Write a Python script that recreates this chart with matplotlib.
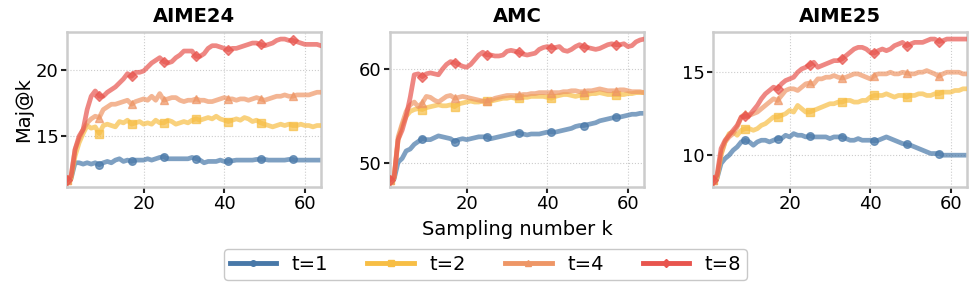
import matplotlib
matplotlib.use("Agg")
import matplotlib.pyplot as plt
from matplotlib.lines import Line2D

k = list(range(1, 65))

titles = ["AIME24", "AMC", "AIME25"]
labels = ["t=1", "t=2", "t=4", "t=8"]
colors = ["#4878a8", "#f7be45", "#ee9666", "#e8554e"]
markers = ["o", "s", "^", "D"]

aime24_t1 = [11.7, 11.8, 13.0, 13.0, 12.9, 13.0, 12.9, 13.0, 12.85, 13.0, 13.1, 13.0, 13.2, 13.3, 13.1, 13.2,
             13.1, 13.2, 13.2, 13.2, 13.3, 13.2, 13.3, 13.4, 13.45, 13.3, 13.3, 13.3, 13.3, 13.3, 13.3, 13.4,
             13.3, 13.2, 13.0, 13.1, 13.1, 13.1, 13.2, 13.1, 13.1, 13.15, 13.2, 13.2, 13.2, 13.2, 13.2, 13.25,
             13.25, 13.25, 13.2, 13.2, 13.2, 13.2, 13.2, 13.25, 13.25, 13.2, 13.2, 13.2, 13.2, 13.2, 13.2, 13.2]
aime24_t2 = [11.7, 11.8, 13.5, 14.5, 15.2, 15.8, 15.6, 15.7, 15.2, 15.8, 15.9, 15.8, 15.7, 16.1, 16.0, 16.2,
             15.9, 16.0, 16.1, 15.9, 16.0, 15.9, 16.2, 16.0, 16.0, 16.2, 16.1, 15.9, 16.0, 16.1, 16.0, 16.2,
             16.3, 16.2, 16.3, 16.4, 16.3, 16.5, 16.3, 16.2, 16.1, 16.2, 16.3, 16.2, 16.4, 16.3, 16.1, 16.2,
             16.0, 15.9, 15.8, 15.7, 15.8, 15.9, 15.8, 15.9, 15.8, 15.8, 15.9, 15.8, 15.8, 15.7, 15.8, 15.8]
aime24_t4 = [11.7, 11.9, 14.0, 14.8, 15.5, 16.0, 16.3, 16.5, 16.4, 17.0, 17.2, 17.4, 17.4, 17.5, 17.6, 17.7,
             17.4, 17.6, 17.7, 17.8, 17.7, 18.0, 17.7, 18.2, 17.7, 17.8, 17.9, 17.9, 17.7, 17.6, 17.7, 17.7,
             17.8, 17.7, 17.7, 17.6, 17.6, 17.7, 17.8, 17.9, 17.8, 17.8, 17.7, 17.8, 17.8, 17.7, 17.8, 17.9,
             17.8, 17.7, 17.8, 17.9, 18.0, 18.0, 18.1, 18.0, 18.0, 18.1, 18.1, 18.1, 18.1, 18.2, 18.3, 18.3]
aime24_t8 = [11.7, 12.0, 14.0, 15.0, 15.5, 17.0, 18.0, 18.4, 18.0, 18.0, 18.3, 18.5, 18.7, 19.0, 19.3, 19.7,
             19.5, 19.8, 19.8, 19.9, 20.2, 20.5, 20.7, 20.9, 20.6, 20.5, 20.6, 20.9, 21.1, 21.4, 21.4, 21.4,
             21.0, 21.0, 21.2, 21.6, 21.8, 21.8, 21.7, 21.6, 21.5, 21.6, 21.6, 21.7, 21.8, 21.9, 22.0, 22.0,
             21.9, 21.8, 21.9, 22.0, 22.2, 22.3, 22.3, 22.2, 22.2, 22.1, 22.0, 21.9, 21.9, 21.9, 21.9, 21.8]

amc_t1 = [48.2, 48.3, 50.1, 50.5, 51.3, 51.5, 52.0, 52.3, 52.6, 52.5, 52.5, 52.7, 52.9, 52.8, 52.7, 52.6,
          52.3, 52.5, 52.6, 52.5, 52.6, 52.7, 52.8, 52.8, 52.8, 52.6, 52.7, 52.8, 52.9, 53.0, 53.1, 53.2,
          53.2, 53.1, 53.0, 53.1, 53.1, 53.1, 53.2, 53.3, 53.3, 53.3, 53.4, 53.5, 53.6, 53.7, 53.9, 54.0,
          54.0, 54.1, 54.2, 54.3, 54.5, 54.6, 54.7, 54.8, 54.9, 54.9, 55.0, 55.1, 55.2, 55.2, 55.3, 55.3]
amc_t2 = [48.2, 48.4, 52.5, 54.0, 55.0, 55.5, 55.7, 55.8, 55.7, 55.9, 56.0, 56.1, 56.2, 56.1, 56.1, 56.2,
          56.0, 56.3, 56.4, 56.5, 56.6, 56.5, 56.5, 56.6, 56.6, 56.6, 56.7, 56.8, 56.9, 56.9, 57.0, 56.9,
          56.9, 57.0, 57.0, 57.1, 57.1, 57.1, 57.1, 57.0, 56.9, 57.1, 57.2, 57.3, 57.3, 57.2, 57.1, 57.2,
          57.2, 57.3, 57.4, 57.4, 57.5, 57.4, 57.3, 57.3, 57.3, 57.3, 57.3, 57.4, 57.4, 57.5, 57.5, 57.5]
amc_t4 = [48.2, 48.5, 52.8, 54.2, 55.5, 56.2, 56.5, 56.0, 56.4, 57.1, 57.0, 56.7, 56.5, 56.8, 57.1, 57.2,
          56.9, 57.0, 57.1, 57.0, 56.9, 56.8, 56.7, 56.6, 56.6, 56.7, 56.9, 57.0, 57.1, 57.2, 57.2, 57.2,
          57.2, 57.3, 57.3, 57.4, 57.4, 57.5, 57.5, 57.5, 57.5, 57.5, 57.5, 57.6, 57.6, 57.7, 57.7, 57.6,
          57.6, 57.7, 57.7, 57.8, 57.9, 57.8, 57.7, 57.7, 57.7, 57.8, 57.8, 57.7, 57.6, 57.6, 57.6, 57.5]
amc_t8 = [48.2, 48.5, 52.5, 53.5, 55.0, 57.0, 59.4, 59.5, 59.2, 59.5, 59.6, 59.5, 59.4, 60.0, 60.5, 60.8,
          60.7, 60.5, 60.3, 60.2, 60.5, 61.0, 61.5, 61.8, 61.5, 61.5, 61.4, 61.4, 61.5, 61.9, 62.0, 61.9,
          61.8, 61.6, 61.5, 61.6, 61.7, 62.1, 62.3, 62.4, 62.3, 62.3, 62.4, 62.0, 61.9, 62.1, 62.4, 62.6,
          62.4, 62.3, 62.2, 62.1, 62.2, 62.4, 62.6, 62.7, 62.6, 62.6, 62.7, 62.4, 62.5, 62.9, 63.1, 63.2]

aime25_t1 = [8.5, 8.6, 9.5, 9.8, 10.0, 10.3, 10.5, 10.8, 10.9, 10.8, 10.6, 10.8, 10.9, 10.9, 10.8, 10.9,
             11.0, 11.0, 11.2, 11.1, 11.3, 11.2, 11.2, 11.1, 11.15, 11.1, 11.1, 11.1, 11.1, 11.0, 11.1, 11.1,
             11.1, 11.0, 10.9, 10.9, 11.0, 10.9, 10.9, 10.9, 10.85, 10.9, 11.0, 11.1, 11.0, 10.9, 10.8, 10.7,
             10.65, 10.6, 10.5, 10.4, 10.3, 10.2, 10.1, 10.1, 10.1, 10.0, 10.0, 10.0, 10.0, 10.0, 10.0, 10.0]
aime25_t2 = [8.5, 8.6, 10.0, 10.8, 11.3, 11.4, 11.2, 11.5, 11.6, 11.6, 11.5, 11.6, 11.8, 11.9, 12.1, 12.3,
             12.3, 12.4, 12.5, 12.7, 12.6, 13.0, 12.8, 12.6, 12.6, 12.7, 12.8, 12.9, 13.0, 13.1, 13.1, 13.2,
             13.2, 13.3, 13.3, 13.2, 13.2, 13.3, 13.3, 13.5, 13.6, 13.6, 13.6, 13.7, 13.6, 13.5, 13.6, 13.6,
             13.5, 13.6, 13.6, 13.7, 13.7, 13.6, 13.6, 13.7, 13.7, 13.8, 13.8, 13.8, 13.9, 13.9, 14.0, 14.0]
aime25_t4 = [8.5, 8.7, 10.1, 10.8, 11.1, 11.3, 11.7, 12.3, 12.5, 12.4, 12.5, 12.6, 12.8, 13.0, 13.2, 13.4,
             13.3, 13.6, 13.9, 14.0, 14.0, 13.9, 14.1, 14.3, 14.35, 14.3, 14.6, 14.6, 14.7, 14.7, 14.8, 14.7,
             14.65, 14.7, 14.8, 14.9, 14.9, 14.8, 14.7, 14.6, 14.8, 14.9, 14.9, 14.9, 15.0, 14.9, 14.9, 15.0,
             14.95, 14.9, 14.9, 15.0, 15.0, 15.1, 15.0, 14.9, 14.75, 14.9, 15.0, 15.0, 15.0, 15.0, 14.9, 14.9]
aime25_t8 = [8.5, 8.8, 10.4, 10.9, 11.2, 11.5, 11.8, 12.3, 12.35, 12.4, 12.7, 13.0, 13.4, 13.7, 13.9, 14.1,
             14.0, 14.3, 14.5, 14.6, 14.7, 15.0, 15.2, 15.3, 15.45, 15.6, 15.3, 15.4, 15.5, 15.6, 15.7, 15.7,
             15.8, 16.0, 16.2, 16.4, 16.5, 16.5, 16.4, 16.2, 16.15, 16.3, 16.4, 16.3, 16.4, 16.6, 16.7, 16.8,
             16.6, 16.7, 16.8, 16.8, 16.8, 16.9, 17.0, 17.0, 16.85, 16.9, 17.0, 17.0, 17.0, 17.0, 17.0, 17.0]

datasets = [
    [aime24_t1, aime24_t2, aime24_t4, aime24_t8],
    [amc_t1, amc_t2, amc_t4, amc_t8],
    [aime25_t1, aime25_t2, aime25_t4, aime25_t8],
]
yticks = [[15, 20], [50, 60], [10, 15]]
xticks = [20, 40, 60]

fig = plt.figure(figsize=(9.71, 2.91), dpi=100)
lefts = [0.069, 0.4017, 0.7343]
axes = []
for i in range(3):
    ax = fig.add_axes([lefts[i], 0.357, 0.2616, 0.533])
    axes.append(ax)
    for j in range(4):
        ax.plot(k, datasets[i][j], color=colors[j], lw=3.4, alpha=0.7,
                marker=markers[j], markersize=5.5 if markers[j] != "D" else 5,
                markevery=8, zorder=2 + j)
    ax.set_xlim(1, 64)
    ax.margins(y=0.05)
    ax.set_xticks(xticks)
    ax.set_yticks(yticks[i])
    ax.set_title(titles[i], fontsize=14, fontweight="bold", pad=7)
    ax.grid(True, linestyle=":", color="#cccccc", lw=0.8)
    ax.set_axisbelow(True)
    for s in ax.spines.values():
        s.set_color("#cccccc")
        s.set_linewidth(1.8)
    ax.tick_params(axis="both", labelsize=13, length=4, width=1.5, color="#222222", pad=2)

axes[0].set_ylabel("Maj@k", fontsize=14, labelpad=2)
axes[1].set_xlabel("Sampling number k", fontsize=14, labelpad=5)

handles = [Line2D([], [], color=colors[j], lw=3.5, marker=markers[j], markersize=4)
           for j in range(4)]
fig.legend(handles, labels, loc="lower center", bbox_to_anchor=(0.5, 0.005), ncol=4,
           fontsize=14, handlelength=2.4, columnspacing=2.0, frameon=True,
           edgecolor="#bbbbbb", fancybox=True, borderpad=0.3, handletextpad=0.8)

fig.savefig("out.png", dpi=100)
